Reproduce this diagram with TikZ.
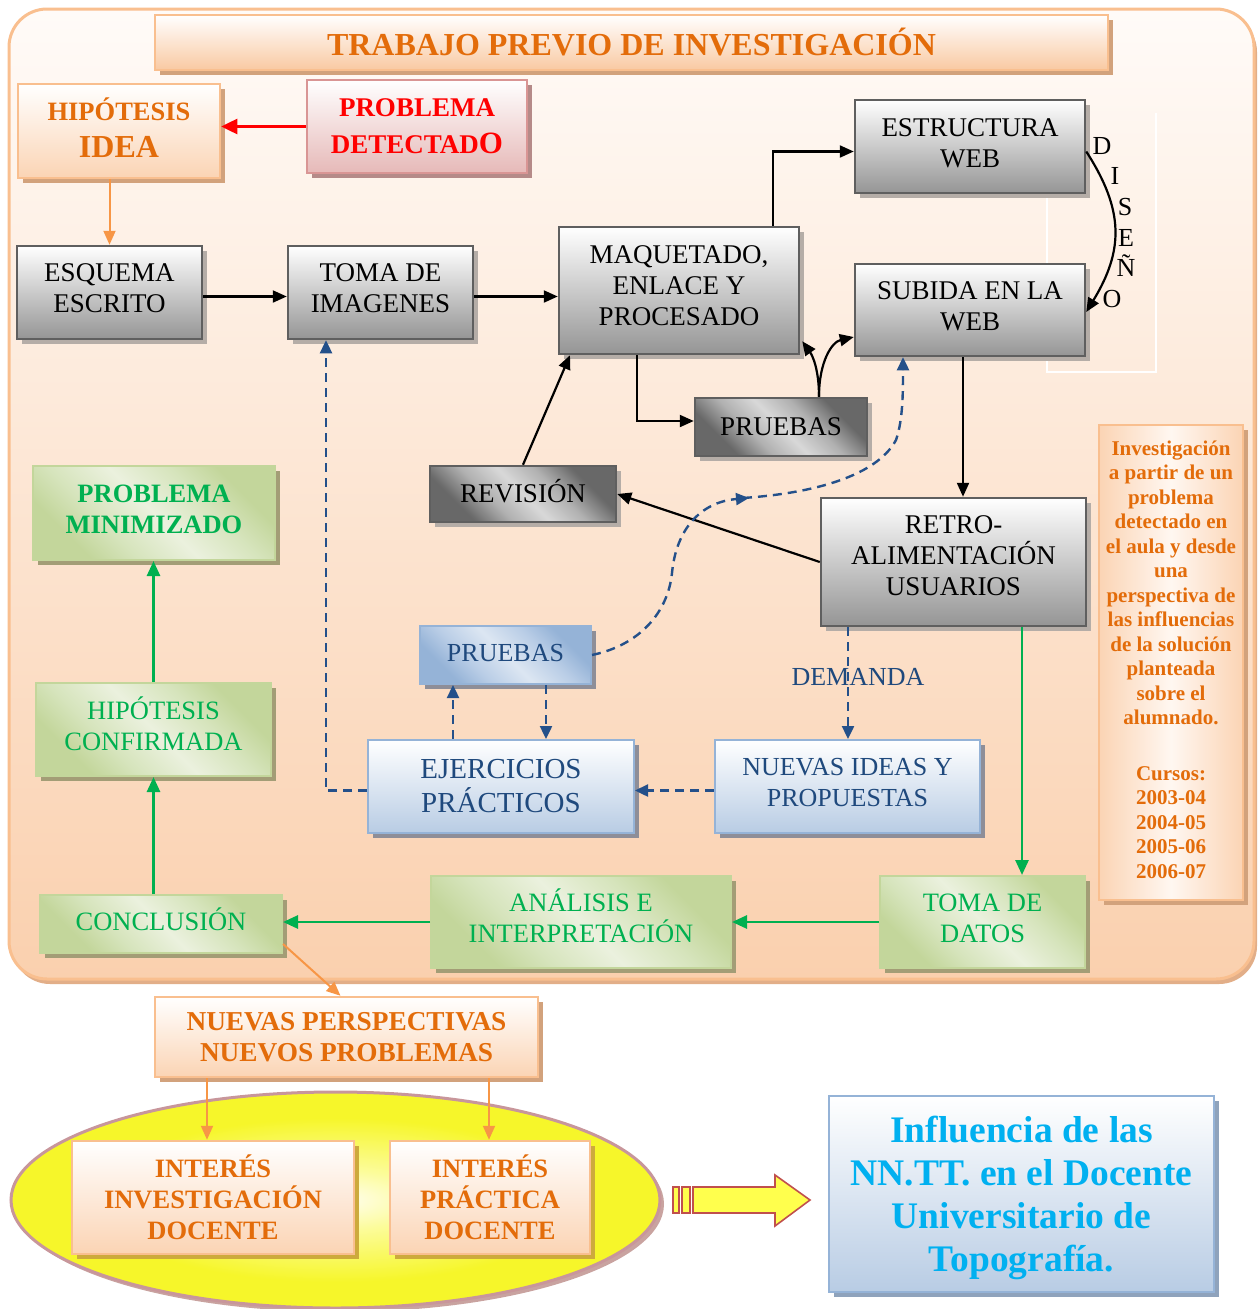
\documentclass[tikz,border=0pt]{standalone}
\usepackage{fontspec}
\setmainfont{Liberation Serif}
\usetikzlibrary{arrows.meta,shadows,calc}

% palette
\definecolor{orTxt}{HTML}{E36C0A}
\definecolor{orArr}{HTML}{F79646}
\definecolor{orLine}{HTML}{F9BF8F}
\definecolor{orFill}{HTML}{FBD4B4}
\definecolor{orSh}{HTML}{D2A27C}
\definecolor{bgTop}{HTML}{FFFBF8}
\definecolor{bgBot}{HTML}{FAD0AE}
\definecolor{frSh}{HTML}{E2AE88}
\definecolor{tMid}{HTML}{FFF7F1}
\definecolor{tBot}{HTML}{F9C9A2}
\definecolor{pkFill}{HTML}{E6B9B8}
\definecolor{pkLine}{HTML}{D99594}
\definecolor{pkSh}{HTML}{B58A88}
\definecolor{grayB}{HTML}{959595}
\definecolor{grayD}{HTML}{5F5F5F}
\definecolor{graySh}{HTML}{B5ADA7}
\definecolor{gdk}{HTML}{686868}
\definecolor{gmd}{HTML}{B0B0B0}
\definecolor{glt}{HTML}{D8D8D8}
\definecolor{gnTxt}{HTML}{00B050}
\definecolor{gnDk}{HTML}{C3D69B}
\definecolor{gnMd}{HTML}{D6E4BC}
\definecolor{gnLt}{HTML}{EBF1DE}
\definecolor{gnSh}{HTML}{A39D76}
\definecolor{blTxt}{HTML}{1F497D}
\definecolor{blDash}{HTML}{24508A}
\definecolor{blDk}{HTML}{95B3D7}
\definecolor{blMd}{HTML}{B9CDE6}
\definecolor{blLt}{HTML}{DCE6F2}
\definecolor{blBot}{HTML}{B8CCE4}
\definecolor{blSh}{HTML}{8E8E98}
\definecolor{cyTxt}{HTML}{00B0F0}
\definecolor{infSh}{HTML}{8FA3BC}
\definecolor{yC0}{HTML}{FFFEF2}
\definecolor{yC1}{HTML}{FCFC9A}
\definecolor{yC2}{HTML}{F6F62A}
\definecolor{ellLine}{HTML}{C8969B}
\definecolor{ellSh}{HTML}{C9A3A0}
\definecolor{intSh}{HTML}{CDAA3C}
\definecolor{arrFill}{HTML}{FFFF4D}
\definecolor{arrLine}{HTML}{C0504D}

\pgfdeclarehorizontalshading{graydiag}{100bp}{color(0bp)=(gdk); color(28bp)=(gdk); color(39bp)=(gmd); color(50bp)=(glt); color(61bp)=(gmd); color(72bp)=(gdk); color(100bp)=(gdk)}
\pgfdeclarehorizontalshading{greendiag}{100bp}{color(0bp)=(gnDk); color(27bp)=(gnDk); color(37bp)=(gnMd); color(50bp)=(gnLt); color(63bp)=(gnMd); color(73bp)=(gnDk); color(100bp)=(gnDk)}
\pgfdeclarehorizontalshading{bluediag}{100bp}{color(0bp)=(blDk); color(27bp)=(blDk); color(37bp)=(blMd); color(50bp)=(blLt); color(63bp)=(blMd); color(73bp)=(blDk); color(100bp)=(blDk)}
\pgfdeclareradialshading{yelrad}{\pgfpoint{0bp}{0bp}}{color(0bp)=(yC0); color(7bp)=(yC1); color(19bp)=(yC2); color(25bp)=(yC2); color(50bp)=(yC2)}

\newcommand\szGray{\fontsize{27}{31}\selectfont}
\newcommand\szGreen{\fontsize{26.5}{31}\selectfont}

\begin{document}
\begin{tikzpicture}[x=1pt,y=-1pt,
  wh/.style 2 args={minimum width=#1pt, minimum height=#2pt},
  base/.style={rectangle, inner sep=0pt, align=center},
  sh/.style={drop shadow={shadow xshift=5pt, shadow yshift=-5pt, opacity=1, fill=#1}},
  graybox/.style={base, top color=white, bottom color=grayB, draw=grayD, line width=2.5pt, sh=graySh, font=\szGray, text depth=9pt},
  graydg/.style={base, shading=graydiag, shading angle=45, draw=grayD, line width=2.5pt, sh=graySh, font=\szGray},
  greenbox/.style={base, shading=greendiag, shading angle=45, draw=gnDk, line width=2pt, sh=gnSh, text=gnTxt, font=\szGreen, text depth=10pt},
  bluedg/.style={base, shading=bluediag, shading angle=45, draw=blDk, line width=2pt, sh=blSh, text=blTxt, font=\fontsize{26}{31}\selectfont},
  bluebox/.style={base, top color=white, bottom color=blBot, draw=blDk, line width=2pt, sh=blSh, text=blTxt},
  orbox/.style={base, top color=white, bottom color=orFill, draw=orLine, line width=2.5pt, text=orTxt, font=\bfseries\fontsize{26.5}{31}\selectfont},
  blk/.style={draw=black, line width=2.2pt, -{Triangle[length=14pt,width=12pt]}},
  dsh/.style={draw=blDash, line width=2.4pt, dash pattern=on 9pt off 6pt, -{Triangle[length=13pt,width=12pt]}},
  grn/.style={draw=gnTxt, line width=2.7pt, -{Triangle[length=15pt,width=13pt]}},
  org/.style={draw=orArr, line width=2pt, -{Triangle[length=14pt,width=12pt]}},
  redar/.style={draw=red, line width=2.5pt, -{Triangle[length=16pt,width=15pt]}},
  letter/.style={inner sep=0pt, font=\fontsize{26}{26}\selectfont}
]
\useasboundingbox (0,0) rectangle (1258,1309);

% rounded frame of the research block
\path[draw=orLine, line width=3pt, rounded corners=38pt, top color=bgTop, bottom color=bgBot,
      drop shadow={shadow xshift=3pt, shadow yshift=-5pt, opacity=1, fill=frSh}]
  (9,9) rectangle (1254,979);

% faint outline beside the design arc
\draw[white, line width=1.2pt] (1156,113) -- (1156,372) -- (1047,372) -- (1047,113);

% title
\node[base, wh={953}{55}, top color=white, bottom color=tBot, draw=orLine, line width=2.5pt, sh=orSh,
      text=orTxt, font=\bfseries\fontsize{32}{36}\selectfont] (title) at (631.5,42.5)
  {TRABAJO PREVIO DE INVESTIGACIÓN};

% starting boxes
\node[orbox, wh={202}{94}, sh=orSh, font=\bfseries\fontsize{26.5}{37}\selectfont, text depth=6pt] (hip) at (119,131)
  {HIPÓTESIS\\{\fontsize{32}{37}\selectfont IDEA}};
\node[base, wh={220}{93}, top color=white, bottom color=pkFill, draw=pkLine, line width=2.5pt, sh=pkSh,
      text=red, font=\bfseries\fontsize{27}{37}\selectfont] (prob) at (417,126.5)
  {PROBLEMA\\DETECTAD{\fontsize{31}{37}\selectfont O}};

% grey process boxes
\node[graybox, wh={185}{93}] (esq) at (109.5,292.5) {ESQUEMA\\ESCRITO};
\node[graybox, wh={185}{93}] (toma) at (380.5,292.5) {TOMA DE\\IMAGENES};
\node[graybox, wh={240}{127}, text depth=10pt] (maq) at (679,290.5) {MAQUETADO,\\ENLACE Y\\PROCESADO};
\node[graybox, wh={230}{93}, text depth=6pt] (estr) at (970,146.5) {ESTRUCTURA\\WEB};
\node[graybox, wh={230}{92}, text depth=8pt] (sub) at (970,310) {SUBIDA EN LA\\WEB};
\node[graydg, wh={172}{58}] (prue) at (781,427) {PRUEBAS};
\node[graydg, wh={186}{56}, text depth=6pt] (rev) at (523,494) {REVISIÓN};
\node[graybox, wh={265}{128}, text depth=12pt] (retro) at (953.5,562) {RETRO-\\ALIMENTACIÓN\\USUARIOS};

% side note
\node[base, wh={144}{475}, left color=orFill, right color=orFill, middle color=tMid, draw=orLine,
      line width=2.5pt, sh=orSh, text=orTxt, font=\bfseries\fontsize{21}{24.5}\selectfont, text depth=6pt] (inv) at (1171,662.5)
  {Investigación\\a partir de un\\problema\\detectado en\\el aula y desde\\una\\perspectiva de\\las influencias\\de la solución\\planteada\\sobre el\\alumnado.\\[31pt]Cursos:\\2003-04\\2004-05\\2005-06\\2006-07};

% blue boxes
\node[bluedg, wh={171}{58}, text depth=4pt] (pruB) at (505.5,655) {PRUEBAS};
\node[bluebox, wh={266}{93}, font=\fontsize{29}{34}\selectfont] (ejer) at (501,786.5) {EJERCICIOS\\PRÁCTICOS};
\node[bluebox, wh={265}{93}, font=\fontsize{26}{31}\selectfont, text depth=8pt] (nue) at (847.5,786.5) {NUEVAS IDEAS Y\\PROPUESTAS};
\node[text=blTxt, inner sep=0pt, font=\fontsize{26}{31}\selectfont] (dem) at (858,677) {DEMANDA};

% green boxes
\node[greenbox, wh={242}{94}, font=\bfseries\szGreen, text depth=8pt] (pmin) at (154,513) {PROBLEMA\\MINIMIZADO};
\node[greenbox, wh={235}{93}, text depth=12pt] (hconf) at (153.5,729.5) {HIPÓTESIS\\CONFIRMADA};
\node[greenbox, wh={242}{58}] (concl) at (161,924) {CONCLUSIÓN};
\node[greenbox, wh={300}{92}, text depth=12pt] (anal) at (581,922) {ANÁLISIS E\\INTERPRETACIÓN};
\node[greenbox, wh={205}{92}, text depth=8pt] (tdat) at (982.5,922) {TOMA DE\\DATOS};

% design arc letters
\node[letter] (ld) at (1102,146) {D};
\node[letter] (li) at (1115,176) {I};
\node[letter] (ls) at (1125,207) {S};
\node[letter] (le) at (1126,238) {E};
\node[letter] (ln) at (1126,266) {Ñ};
\node[letter] (lo) at (1112,299) {O};

% lower part
\node[orbox, wh={383}{80}, sh=orSh, font=\bfseries\fontsize{27.3}{31}\selectfont, text depth=-12pt] (nper) at (346.5,1037)
  {NUEVAS PERSPECTIVAS\\NUEVOS PROBLEMAS};

\shade[shading=yelrad, draw=ellLine, line width=3pt,
       drop shadow={shadow xshift=4pt, shadow yshift=-4pt, opacity=1, fill=ellSh}]
  (335.5,1200) ellipse [x radius=324.5pt, y radius=108pt];

\node[orbox, wh={282}{113}, sh=intSh] (int1) at (213,1197.5) {INTERÉS\\INVESTIGACIÓN\\DOCENTE};
\node[orbox, wh={200}{113}, sh=intSh] (int2) at (490,1197.5) {INTERÉS\\PRÁCTICA\\DOCENTE};

% striped block arrow
\begin{scope}[draw=arrLine, fill=arrFill, line width=1.6pt]
  \filldraw (673,1187) rectangle (679,1213);
  \filldraw (682,1187) rectangle (690,1213);
  \filldraw (693,1187) -- (775,1187) -- (775,1175) -- (810,1200) -- (775,1226) -- (775,1213) -- (693,1213) -- cycle;
\end{scope}

\node[base, wh={385}{196}, top color=white, bottom color=blBot, draw=blDk, line width=2.5pt, sh=infSh,
      text=cyTxt, font=\bfseries\fontsize{37.5}{43}\selectfont, text depth=0pt] (infl) at (1021.5,1194)
  {Influencia de las\\NN.TT. en el Docente\\Universitario de\\Topografía.};

% ---- connectors ----
\draw[redar] (prob.west) -- (prob.west -| hip.east);
\draw[org] (hip.south -| esq.north) -- (esq.north);

\draw[blk] ([yshift=-4pt]esq.east) -- ([yshift=-4pt]toma.west);
\draw[blk] ([yshift=-4pt]toma.east) -- ([yshift=-4pt]toma.east -| maq.west);
\draw[blk] ([xshift=94pt]maq.north) |- ([yshift=-5pt]estr.west);
\draw[blk] ([xshift=-42pt]maq.south) |- ([yshift=6pt]prue.west);
\draw[blk] ([xshift=38pt]prue.north) .. controls +(0,-28) and +(10,14) .. ([xshift=2pt,yshift=14pt]maq.south east);
\draw[blk] ([xshift=38pt]prue.north) .. controls +(0,-35) and +(-22,5) .. ([yshift=-27pt]sub.west);
\draw[blk] (rev.north) -- ([xshift=-109pt]maq.south);
\draw[blk] ([yshift=-5pt]estr.east) .. controls (1124,210) and (1124,250) .. ([yshift=-2pt]sub.east);
\draw[blk] ([xshift=-7pt]sub.south) -- ([xshift=-7pt]sub.south |- retro.north);
\draw[blk] (retro.west) -- (rev.east);

\draw[dsh] ([xshift=-105.5pt]retro.south) -- ([xshift=-105.5pt]retro.south |- nue.north);
\draw[dsh] ([yshift=-4pt]nue.west) -- ([yshift=-4pt]ejer.east);
\draw[dsh] ([yshift=-4pt]ejer.west) -| ([xshift=-54.5pt]toma.south);
\draw[dsh] ([xshift=-48pt]ejer.north) -- ([xshift=-48pt]ejer.north |- pruB.south);
\draw[dsh] ([xshift=40.5pt]pruB.south) -- ([xshift=40.5pt]pruB.south |- ejer.north);
\coordinate (turn) at (749,498);
\draw[dsh] (pruB.east) .. controls (640,645) and (668,612) .. (672,573) .. controls (676,530) and (700,502) .. (turn);
\draw[dsh] ([xshift=-6pt]turn) .. controls (830,492) and (880,470) .. (896,440) .. controls (903,420) and (903,392) .. ([xshift=-67pt]sub.south);

\draw[grn] ([xshift=68.5pt]retro.south) -- ([xshift=68.5pt]retro.south |- tdat.north);
\draw[grn] (tdat.west) -- (anal.east);
\draw[grn] (anal.west) -- (anal.west -| concl.east);
\draw[grn] (hconf.south |- concl.north) -- (hconf.south);
\draw[grn] (hconf.north) -- (hconf.north |- pmin.south);

\draw[org] ([yshift=10pt]concl.south east) -- ([xshift=-6pt]nper.north);
\draw[org] ([xshift=-6pt]int1.north |- nper.south) -- ([xshift=-6pt]int1.north);
\draw[org] ([xshift=-1pt]int2.north |- nper.south) -- ([xshift=-1pt]int2.north);
\end{tikzpicture}
\end{document}
